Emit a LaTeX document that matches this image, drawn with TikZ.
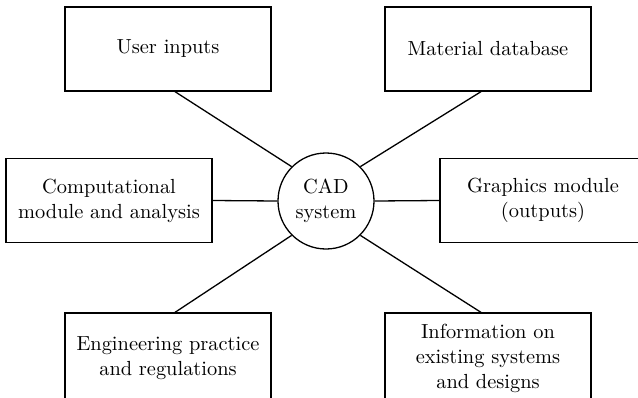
\documentclass[tikz,border=0pt]{standalone}
\begin{document}
\begin{tikzpicture}[x=0.5pt,y=-0.5pt,
  box/.style={draw,line width=0.65pt,minimum width=103pt,minimum height=42pt,inner sep=0pt,align=center,font=\fontsize{10.2}{12.5}\selectfont},
  hub/.style={draw,circle,line width=0.65pt,minimum size=48pt,inner sep=0pt,align=center,font=\fontsize{10.2}{12.5}\selectfont},
  link/.style={line width=0.65pt}]
\useasboundingbox (0,0) rectangle (638,397);
\clip (0,0) rectangle (638,397);
\node[hub] (cad) at (326,201) {CAD\\system};
\node[box] (ui) at (168,49) {User inputs};
\node[box] (md) at (488,49) {Material database};
\node[box] (cm) at (109,200.5) {Computational\\module and analysis};
\node[box] (gm) at (543,200.5) {Graphics module\\(outputs)};
\node[box,minimum height=45pt] (ep) at (168,358) {Engineering practice\\and regulations};
\node[box,minimum height=45pt] (is) at (488,358) {Information on\\existing systems\\and designs};
\draw[link] ([xshift=3.5pt]ui.south) -- (cad.135);
\draw[link] ([xshift=-3.5pt]md.south) -- (cad.45);
\draw[link] (cm.east) -- (cad.west);
\draw[link] (gm.west) -- (cad.east);
\draw[link] ([xshift=3.5pt]ep.north) -- (cad.225);
\draw[link] ([xshift=-3.5pt]is.north) -- (cad.315);
\end{tikzpicture}
\end{document}
